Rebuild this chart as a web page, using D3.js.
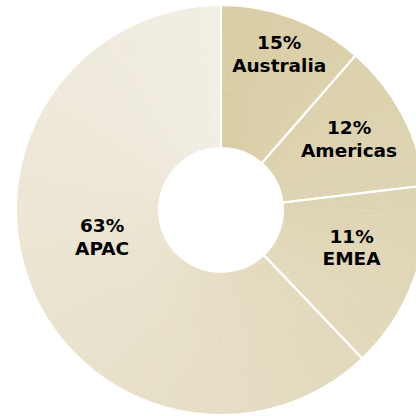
<!DOCTYPE html>
<html>
<head>
<meta charset="utf-8">
<script src="https://cdn.jsdelivr.net/npm/d3@7"></script>
<style>
  html, body { margin: 0; padding: 0; background: #ffffff; }
  svg { display: block; }
</style>
</head>
<body>
<div id="chart"></div>
<script>
// ---- data ----
const categories = ["Australia", "Americas", "EMEA", "APAC"];
const labelValues = [15, 12, 11, 63];          // percentages printed on the chart
const sliceShares = [11.4, 11.7, 14.8, 62.1];  // slice sizes as drawn (read from the arcs)

// ---- layout ----
const W = 416, H = 416;
const cx = 221, cy = 210;
const outerR = 205, innerR = 62;
const labelRadius = [166, 146, 136, 122];
const labelAngleNudge = [0, -0.8, -3.5, 8.8]; // degrees
const colorStart = "#d8cca3", colorEnd = "#f2eee4";

const svg = d3.select("#chart").append("svg")
  .attr("width", W).attr("height", H);

const g = svg.append("g").attr("transform", `translate(${cx},${cy})`);

const rows = categories.map((c, i) => ({ category: c, label: labelValues[i], share: sliceShares[i] }));

const pie = d3.pie().sort(null).value(d => d.share);
const arcs = pie(rows);

const arc = d3.arc().innerRadius(innerR).outerRadius(outerR);
const colorAt = d3.scaleLinear().domain([0, 2 * Math.PI])
  .range([colorStart, colorEnd]).interpolate(d3.interpolateRgb);

// conic shading: each slice filled with thin sub-arcs coloured by angle
const step = Math.PI / 360;
arcs.forEach(a => {
  const pieces = d3.range(a.startAngle, a.endAngle, step).map(s => ({
    startAngle: s,
    endAngle: Math.min(s + step, a.endAngle)
  }));
  g.append("g").selectAll("path").data(pieces).join("path")
    .attr("d", arc)
    .attr("fill", p => colorAt((p.startAngle + p.endAngle) / 2))
    .attr("stroke", p => colorAt((p.startAngle + p.endAngle) / 2))
    .attr("stroke-width", 0.6);
});

// slice outlines (white separators)
g.append("g").selectAll("path").data(arcs).join("path")
  .attr("d", arc)
  .attr("fill", "none")
  .attr("stroke", "#ffffff")
  .attr("stroke-width", 2)
  .attr("stroke-linejoin", "miter");

// labels
const lbl = g.append("g")
  .attr("font-family", "'DejaVu Sans', sans-serif")
  .attr("font-weight", "bold")
  .attr("font-size", "18.5px")
  .attr("fill", "#000000")
  .attr("text-anchor", "middle");

arcs.forEach((a, i) => {
  const mid = (a.startAngle + a.endAngle) / 2 + labelAngleNudge[i] * Math.PI / 180;
  const r = labelRadius[i];
  const x = r * Math.sin(mid);
  const y = -r * Math.cos(mid);
  const t = lbl.append("text").attr("transform", `translate(${x},${y})`);
  t.append("tspan").attr("x", 0).attr("y", -5.5).text(a.data.label + "%");
  t.append("tspan").attr("x", 0).attr("y", 17.2).text(a.data.category);
});
</script>
</body>
</html>
